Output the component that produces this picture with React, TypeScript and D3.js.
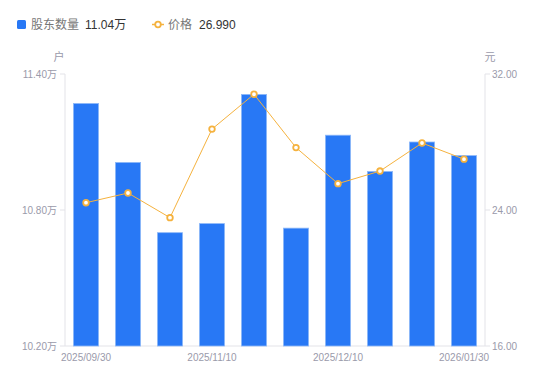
import React from "react";
import * as d3 from "d3";

const dates = ["2025/09/30","2025/10/20","2025/10/31","2025/11/10","2025/11/20","2025/11/30","2025/12/10","2025/12/31","2026/01/20","2026/01/30"];
const holders = [11.27, 11.01, 10.70, 10.74, 11.31, 10.72, 11.13, 10.97, 11.10, 11.04];
const prices = [24.43, 25.00, 23.55, 28.76, 30.81, 27.67, 25.55, 26.29, 27.94, 26.99];
const leftTicks = [10.2, 10.8, 11.4];
const rightTicks = [16, 24, 32];
const shownDates = ["2025/09/30","2025/11/10","2025/12/10","2026/01/30"];

const FONT = "'Liberation Sans', Arial, 'Noto Sans CJK SC', sans-serif";

export default function App() {
  const W = 550, H = 381;
  const left = 65, right = 485, top = 74, bottom = 346;
  const x = d3.scaleBand<string>().domain(dates).range([left, right]).paddingInner(0.4).paddingOuter(0.2);
  const yL = d3.scaleLinear().domain([10.2, 11.4]).range([bottom, top]);
  const yR = d3.scaleLinear().domain([16, 32]).range([bottom, top]);
  const cx = (d: string) => (x(d) as number) + x.bandwidth() / 2;
  const line = d3.line<number>().x((_, i) => cx(dates[i])).y(v => yR(v));
  const axisColor = "#e3e3e8";
  const tickText = "#9a9aaa";
  return (
    <svg width={W} height={H} style={{ position: "absolute", left: 0, top: 0 }} fontFamily={FONT}>
      <rect x={0} y={0} width={W} height={H} fill="#fff" />
      {/* legend */}
      <rect x={17} y={20} width={9} height={9} rx={1.5} fill="#2878f5" />
      <text x={31} y={29} fontSize={12} fill="#777">股东数量</text>
      <text x={85} y={29} fontSize={12} fill="#333">11.04万</text>
      <line x1={152} x2={164} y1={24.5} y2={24.5} stroke="#f5b23e" strokeWidth={1.5} />
      <circle cx={158} cy={24.5} r={2.8} fill="#fff" stroke="#f5b23e" strokeWidth={1.8} />
      <text x={168} y={29} fontSize={12} fill="#777">价格</text>
      <text x={199} y={29} fontSize={12} fill="#333">26.990</text>
      {/* units */}
      <text x={59} y={61} fontSize={11} fill={tickText} textAnchor="middle">户</text>
      <text x={490} y={61} fontSize={11} fill={tickText} textAnchor="middle">元</text>
      {/* axes */}
      <line x1={left} x2={left} y1={top} y2={bottom} stroke={axisColor} />
      <line x1={right} x2={right} y1={top} y2={bottom} stroke={axisColor} />
      <line x1={left} x2={right} y1={bottom} y2={bottom} stroke={axisColor} />
      {leftTicks.map(t => (
        <g key={"l" + t}>
          <line x1={left - 5} x2={left} y1={yL(t)} y2={yL(t)} stroke={axisColor} />
          <text x={57} y={yL(t) + 3.5} fontSize={10} fill={tickText} textAnchor="end">{t.toFixed(2) + "万"}</text>
        </g>
      ))}
      {rightTicks.map(t => (
        <g key={"r" + t}>
          <line x1={right} x2={right + 5} y1={yR(t)} y2={yR(t)} stroke={axisColor} />
          <text x={492} y={yR(t) + 3.5} fontSize={10} fill={tickText}>{t.toFixed(2)}</text>
        </g>
      ))}
      {/* bars */}
      {dates.map((d, i) => (
        <rect key={d} x={x(d)} y={yL(holders[i])} width={x.bandwidth()} height={bottom - yL(holders[i])}
          fill="#2878f5" stroke="#8fb9f8" strokeWidth={0.8} />
      ))}
      {/* x labels */}
      {shownDates.map(d => (
        <text key={d} x={cx(d)} y={361} fontSize={10} fill={tickText} textAnchor="middle">{d}</text>
      ))}
      {/* line */}
      <path d={line(prices) || ""} fill="none" stroke="#f5b23e" strokeWidth={1} />
      {prices.map((p, i) => (
        <circle key={i} cx={cx(dates[i])} cy={yR(p)} r={2.8} fill="#fff" stroke="#f5b23e" strokeWidth={1.8} />
      ))}
    </svg>
  );
}
